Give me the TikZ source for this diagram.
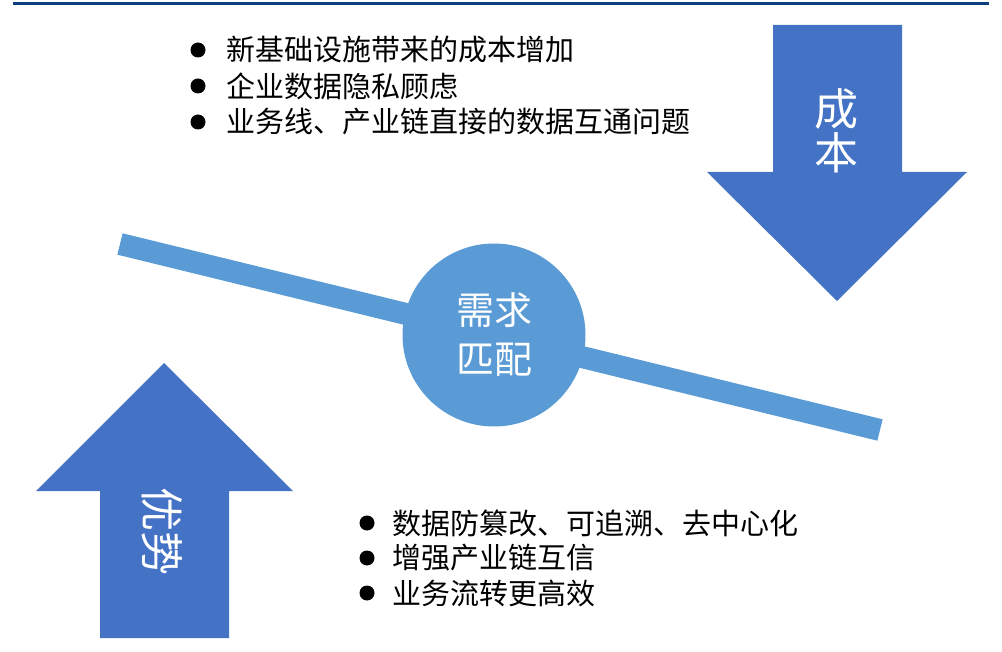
\documentclass[tikz,border=0pt]{standalone}
\usepackage{fontspec}
\usepackage{tikz}
\newfontfamily\cjk{Noto Sans CJK SC}
\definecolor{ourblue}{HTML}{4472C4}
\definecolor{ourlightblue}{HTML}{5B9BD5}
\definecolor{ournavy}{HTML}{0D3E7C}

\begin{document}
\begin{tikzpicture}[x=1pt, y=-1pt]

  \tikzstyle{item}=[anchor=west, inner sep=0pt,
                    font=\cjk\fontsize{29}{35}\selectfont]
  \tikzstyle{dot}=[circle, fill=black, inner sep=0pt, minimum size=15pt]
  \tikzstyle{arrowtext}=[white, inner sep=0pt, align=center,
                         font=\cjk\fontsize{44}{44}\selectfont]
  \tikzstyle{hub}=[circle, fill=ourlightblue, minimum size=183pt,
                   inner sep=0pt, text=white, align=center,
                   font=\cjk\fontsize{38}{49}\selectfont]

  \useasboundingbox (0,0) rectangle (1002,652);

  % top rule
  \draw[ournavy, line width=3pt] (13,4) -- (989,4);

  % cost arrow
  \fill[ourblue] (773,25) -- (902,25) -- (902,172) -- (967,172)
    -- (837,301) -- (707,172) -- (773,172) -- cycle;
  \path (836,131) node[arrowtext](cost){成\\本};

  % gain arrow
  \fill[ourblue] (100,638) -- (229,638) -- (229,491) -- (293,491)
    -- (164,363) -- (36,491) -- (100,491) -- cycle;
  \path (162,531) node[arrowtext, rotate=-90](gain){优势};

  % balance bar
  \coordinate (barl) at (120,244);
  \coordinate (barr) at (880,430);
  \draw[ourlightblue, line width=22pt] (barl) -- (barr);
  \path (494,335) node[hub](match){需求\\匹配};

  \path
  (198,50)  node[dot](ca){}
  (198,86)  node[dot](cb){}
  (198,122) node[dot](cc){};

  \path
  (226,50)  node[item](costa){新基础设施带来的成本增加}
  (226,86)  node[item](costb){企业数据隐私顾虑}
  (226,122) node[item](costc){业务线、产业链直接的数据互通问题};

  \path
  (367,523) node[dot](ga){}
  (367,558) node[dot](gb){}
  (367,593) node[dot](gc){};

  \path
  (392,523) node[item](gaina){数据防篡改、可追溯、去中心化}
  (392,558) node[item](gainb){增强产业链互信}
  (392,593) node[item](gainc){业务流转更高效};

\end{tikzpicture}
\end{document}
